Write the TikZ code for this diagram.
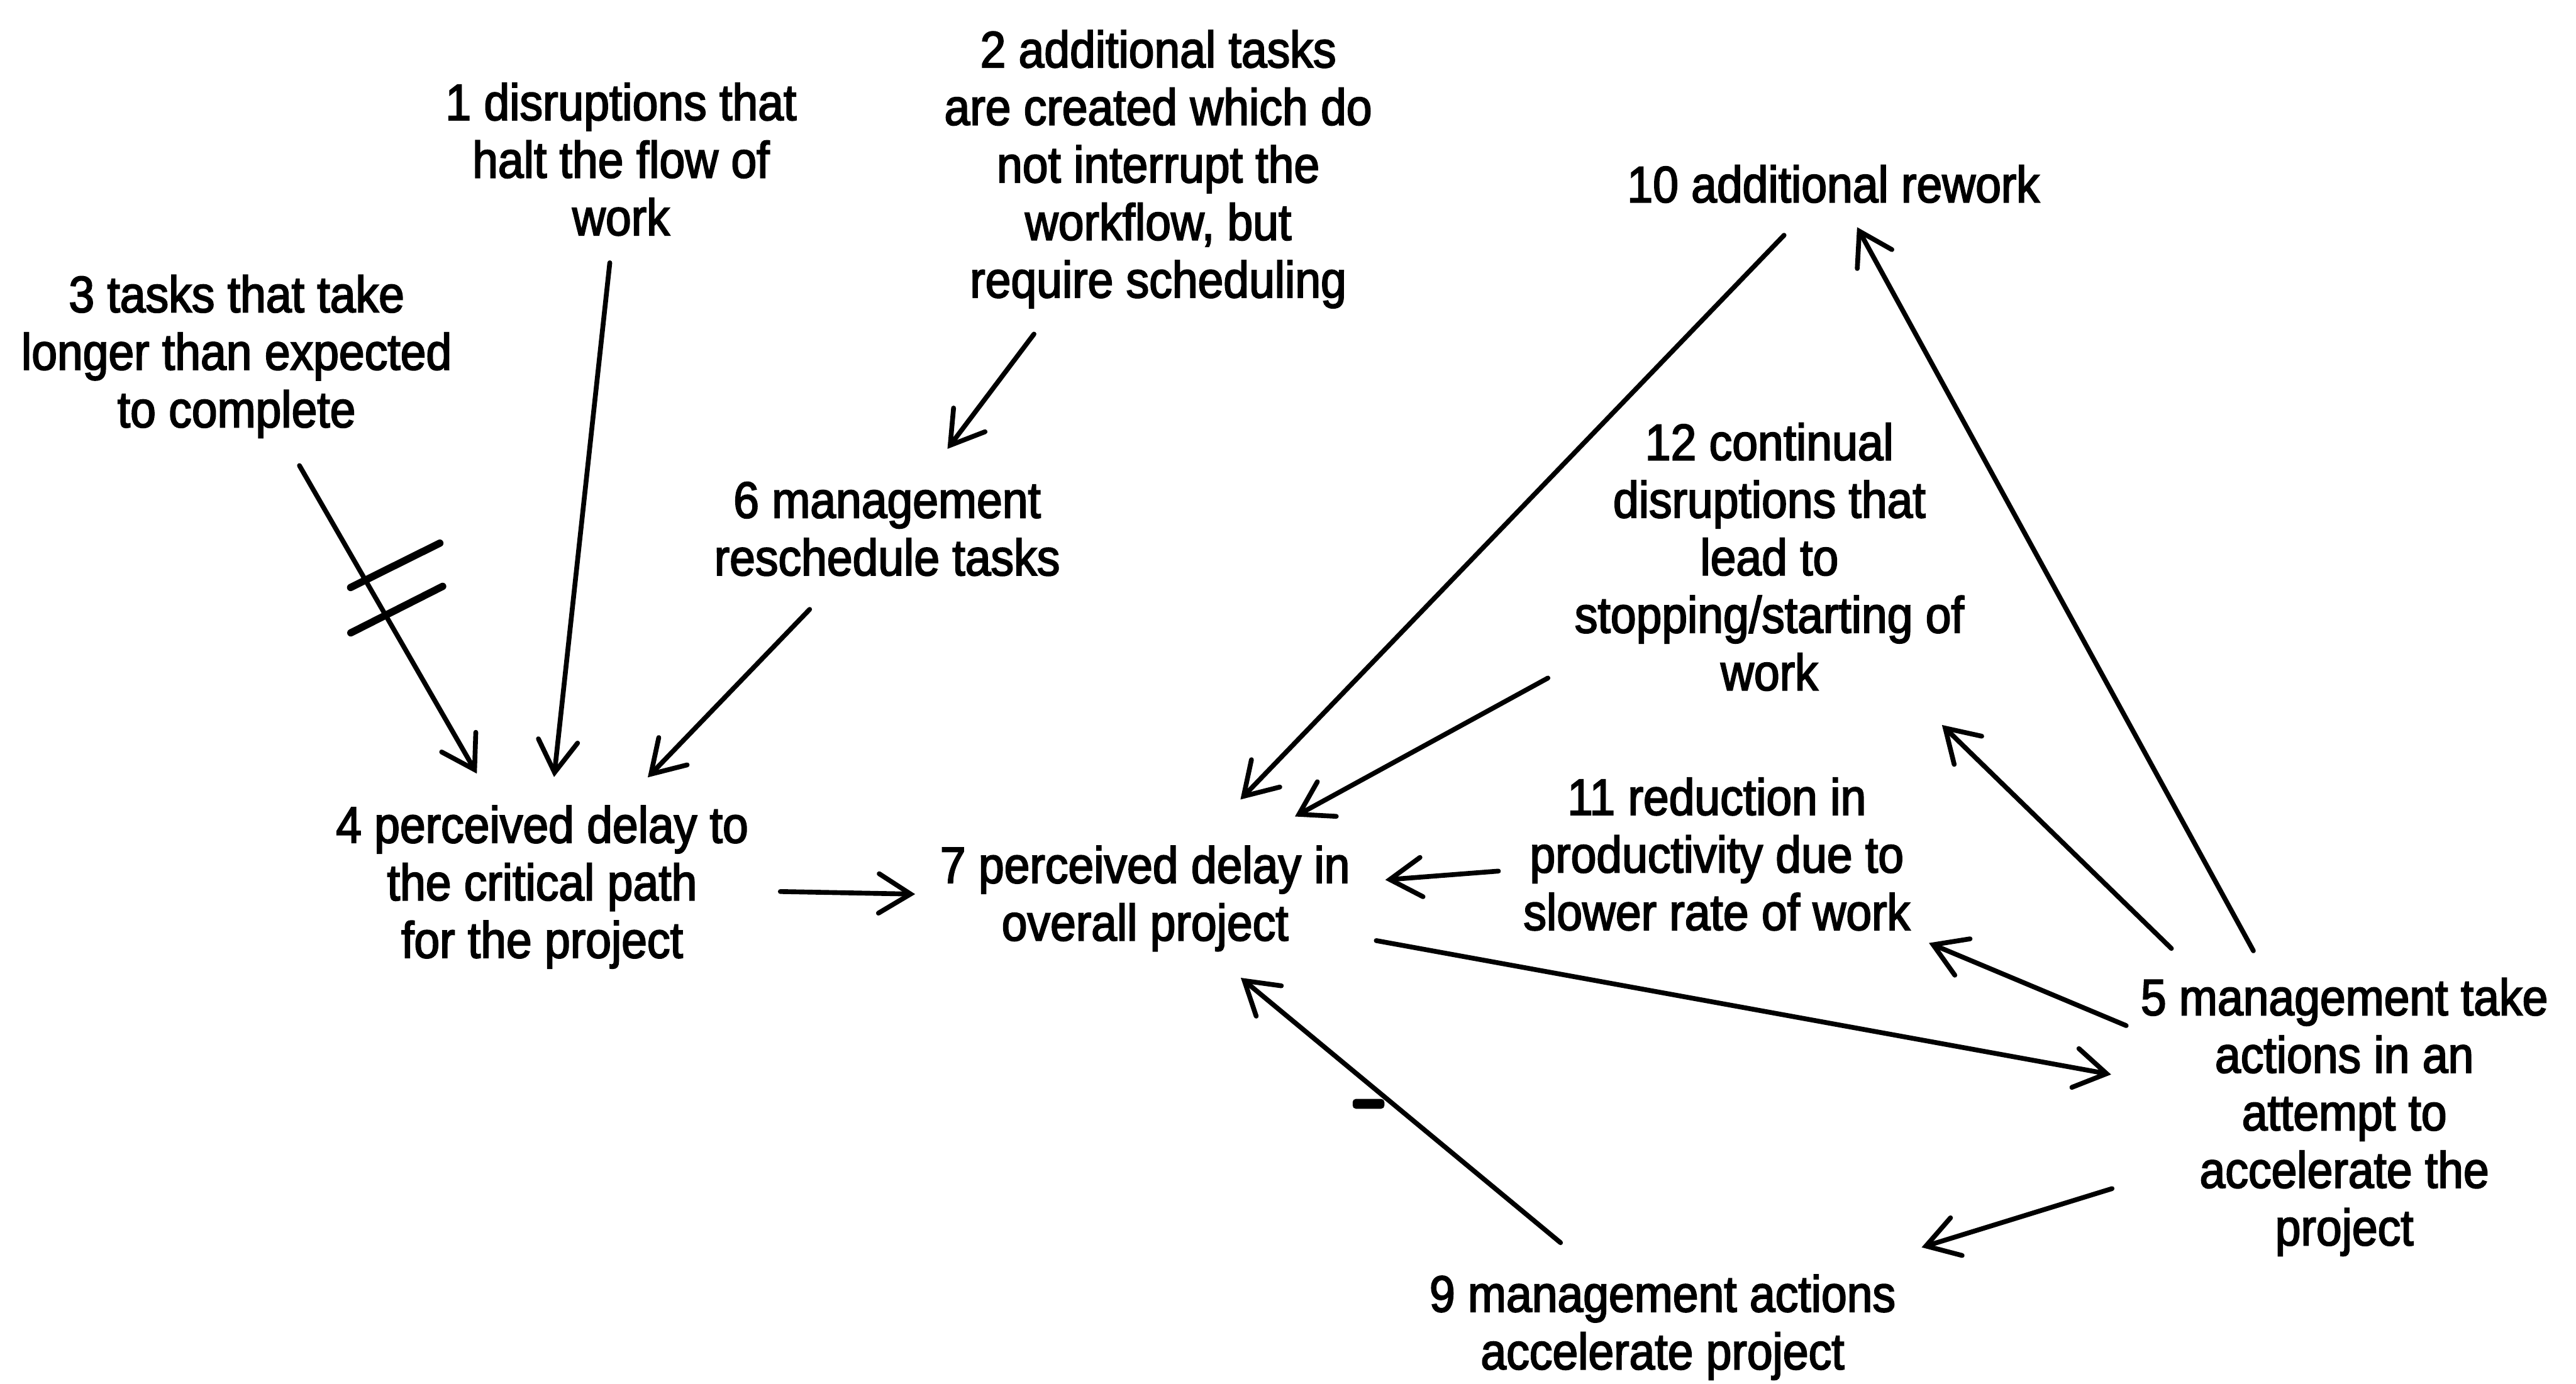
\documentclass[tikz,border=0pt]{standalone}
\usepackage{fontspec}
\setmainfont{Liberation Sans}[FakeStretch=0.9,FakeBold=2.5]
\usetikzlibrary{arrows.meta,calc}

\begin{document}
\begin{tikzpicture}[x=0.03cm,y=-0.03cm,
  lbl/.style={align=center,inner sep=0pt,font=\fontsize{26.6}{29.9}\selectfont},
  link/.style={line width=2.5pt,line cap=round,
    -{Straight Barb[length=5.8mm,width=7.2mm,line cap=round]}},
  bar/.style={line width=3.8pt,line cap=round},
  sign/.style={fill=black,inner sep=0pt,minimum width=0.58cm,minimum height=0.18cm,rounded corners=0.06cm}]
\useasboundingbox (0,0) rectangle (1568,842.4);

% variables
\node[lbl] (n3)  at (144,217)  {3 tasks that take\\longer than expected\\to complete};
\node[lbl] (n1)  at (378,97)   {1 disruptions that\\halt the flow of\\work};
\node[lbl] (n2)  at (705,103)  {2 additional tasks\\are created which do\\not interrupt the\\workflow, but\\require scheduling};
\node[lbl] (n6)  at (540,322)  {6 management\\reschedule tasks};
\node[lbl] (n4)  at (330,540)  {4 perceived delay to\\the critical path\\for the project};
\node[lbl] (n7)  at (697,547)  {7 perceived delay in\\overall project};
\node[lbl] (n10) at (1116,112) {10 additional rework};
\node[lbl] (n12) at (1077,339) {12 continual\\disruptions that\\lead to\\stopping/starting of\\work};
\node[lbl] (n11) at (1045,520) {11 reduction in\\productivity due to\\slower rate of work};
\node[lbl] (n5)  at (1427,680) {5 management take\\actions in an\\attempt to\\accelerate the\\project};
\node[lbl] (n9)  at (1012,808) {9 management actions\\accelerate project};

% causal links
\draw[link,shorten <=2.30cm,shorten >=2.39cm] (n3.center) -- (n4.center);
\draw[link,shorten <=1.90cm,shorten >=2.02cm] (n1.center) -- (n4.center);
\draw[link,shorten <=3.77cm,shorten >=1.83cm] (n2.center) -- (n6.center);
\draw[link,shorten <=2.04cm,shorten >=2.78cm] (n6.center) -- (n4.center);
\draw[link,shorten <=4.35cm,shorten >=4.20cm] (n4.center) -- (n7.center);
\draw[link,shorten <=1.30cm,shorten >=2.51cm] (n10.center) -- (n7.center);
\draw[link,shorten <=4.61cm,shorten >=3.12cm] (n12.center) -- (n7.center);
\draw[link,shorten <=4.00cm,shorten >=4.40cm] (n11.center) -- (n7.center);
\draw[link,shorten <=4.29cm,shorten >=4.33cm] (n7.center) -- (n5.center);
\draw[link,shorten <=3.46cm,shorten >=0.90cm] (n5.center) -- (n10.center);
\draw[link,shorten <=4.41cm,shorten >=4.40cm] (n5.center) -- (n12.center);
\draw[link,shorten <=4.32cm,shorten >=4.20cm] (n5.center) -- (n11.center);
\draw[link,shorten <=4.44cm,shorten >=4.95cm] (n5.center) -- (n9.center);
\draw[link,shorten <=2.42cm,shorten >=2.27cm] (n9.center) -- (n7.center);

% delay mark on the link 3 -> 4
\path (n3.center) -- (n4.center) coordinate[pos=0.42] (t1) coordinate[pos=0.49] (t2);
\draw[bar] ($(t1)+(-8.7,5)$) -- ($(t1)+(45.6,-22)$);
\draw[bar] ($(t2)+(-21.6,10)$) -- ($(t2)+(34.3,-18.3)$);

% polarity of the link 9 -> 7
\node[sign] (minus) at (833,672) {};
\end{tikzpicture}
\end{document}
